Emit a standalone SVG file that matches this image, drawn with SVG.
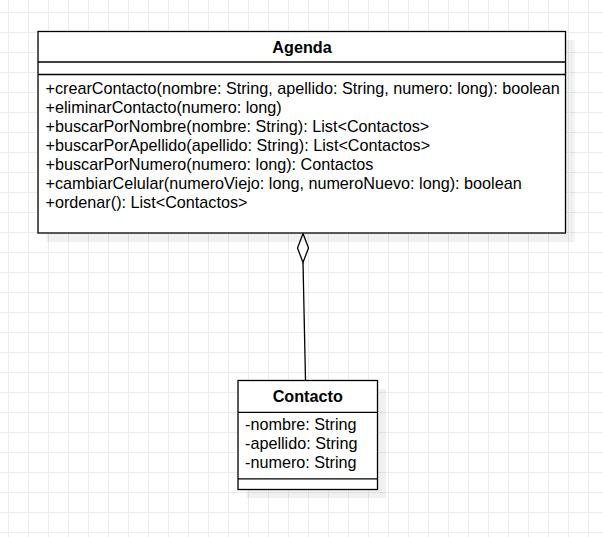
<svg xmlns="http://www.w3.org/2000/svg" width="603" height="537" viewBox="0 0 603 537">
<defs>
<pattern id="grid" x="8" y="12" width="20" height="20" patternUnits="userSpaceOnUse">
<path d="M0.5 0V20M0 0.5H20" fill="none" stroke="#ececec" stroke-width="1"/>
</pattern>
</defs>
<style>
.box{fill:#fff;stroke:#000;stroke-width:1.3}
.shadow{fill:#000;fill-opacity:0.055}
.div{stroke:#000;stroke-width:1.3;fill:none}
.title{font-family:"Liberation Sans",Arial,sans-serif;font-size:16.2px;font-weight:bold;text-anchor:middle;fill:#000}
.member{font-family:"Liberation Sans",Arial,sans-serif;font-size:16.2px;fill:#000}
.edge{stroke:#000;stroke-width:1.3;fill:none}
.diamond{fill:#fff;stroke:#000;stroke-width:1.3}
</style>
<rect x="0" y="0" width="603" height="537" fill="#fff"/>
<rect x="0" y="0" width="603" height="537" fill="url(#grid)"/>
<g id="connectors">
<path class="edge" d="M303 262.5L305.5 380.5"/>
<path class="diamond" d="M303 233.5L308.5 248L303 262.5L297.5 248Z"/>
</g>
<g id="Agenda">
<rect class="shadow" x="46.5" y="40" width="528" height="202"/>
<rect class="box" x="38" y="31.5" width="527.5" height="201.5"/>
<line class="div" x1="38" y1="62" x2="565.5" y2="62"/>
<line class="div" x1="38" y1="74.5" x2="565.5" y2="74.5"/>
<text class="title" x="302" y="53.3">Agenda</text>
<text class="member" x="45.5" y="93.7">+crearContacto(nombre: String, apellido: String, numero: long): boolean</text>
<text class="member" x="45.5" y="112.8">+eliminarContacto(numero: long)</text>
<text class="member" x="45.5" y="131.9">+buscarPorNombre(nombre: String): List&lt;Contactos&gt;</text>
<text class="member" x="45.5" y="151">+buscarPorApellido(apellido: String): List&lt;Contactos&gt;</text>
<text class="member" x="45.5" y="170.1">+buscarPorNumero(numero: long): Contactos</text>
<text class="member" x="45.5" y="189.2">+cambiarCelular(numeroViejo: long, numeroNuevo: long): boolean</text>
<text class="member" x="45.5" y="208.3">+ordenar(): List&lt;Contactos&gt;</text>
</g>
<g id="Contacto">
<rect class="shadow" x="246.5" y="389" width="139.5" height="109"/>
<rect class="box" x="238" y="380.5" width="139.5" height="109"/>
<line class="div" x1="238" y1="412.3" x2="377.5" y2="412.3"/>
<line class="div" x1="238" y1="478.8" x2="377.5" y2="478.8"/>
<text class="title" x="307.7" y="401.7">Contacto</text>
<text class="member" x="245" y="430">-nombre: String</text>
<text class="member" x="245" y="448.8">-apellido: String</text>
<text class="member" x="245" y="467.5">-numero: String</text>
</g>
</svg>
